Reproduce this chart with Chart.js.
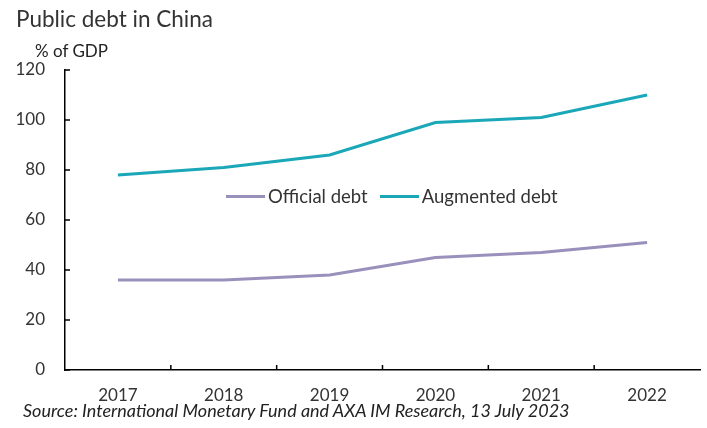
<!DOCTYPE html>
<html>
<head>
<meta charset="utf-8">
<script src="https://cdn.jsdelivr.net/npm/chart.js@4.4.0/dist/chart.umd.min.js"></script>
<style>
  body { margin: 0; background: #fff; font-family: Lato, "Open Sans", sans-serif; color: #222; }
  .wrap { position: relative; width: 707px; height: 428px; }
  #c { position: absolute; left: 0; top: 0; }
  .title { position: absolute; left: 16px; top: 5px; font-size: 22.5px; color: #333; line-height: 1.2; }
  .unit { position: absolute; left: 35px; top: 41px; font-size: 17px; color: #222; line-height: 1.2; }
  .source { position: absolute; left: 23px; top: 400px; font-size: 18px; font-style: italic; color: #222; line-height: 1.2; white-space: nowrap; }
  .legend { position: absolute; left: 226px; top: 185px; font-size: 18.5px; color: #333; display: flex; align-items: center; line-height: 1.2; }
  .legend span.sw { display: inline-block; width: 39px; height: 3px; margin-right: 3px; }
  .legend span.item { display: flex; align-items: center; margin-right: 12px; }
</style>
</head>
<body>
<div class="wrap">
  <canvas id="c" width="707" height="428"></canvas>
  <div class="title">Public debt in China</div>
  <div class="unit">% of GDP</div>
  <div class="legend">
    <span class="item"><span class="sw" style="background:#9a90bc"></span>Official debt</span>
    <span class="item"><span class="sw" style="background:#1aa7b8"></span>Augmented debt</span>
  </div>
  <div class="source">Source: International Monetary Fund and AXA IM Research, 13 July 2023</div>
</div>
<script>
const years = ['2017', '2018', '2019', '2020', '2021', '2022'];
const officialDebt = [36, 36, 38, 45, 47, 51];
const augmentedDebt = [78, 81, 86, 99, 101, 110];

// small tick marks drawn on the inner side of both axes
const innerTicks = {
  id: 'innerTicks',
  afterDraw(chart) {
    const ctx = chart.ctx;
    const x = chart.scales.x, y = chart.scales.y;
    ctx.save();
    ctx.strokeStyle = '#000';
    ctx.lineWidth = 1.5;
    ctx.beginPath();
    y.ticks.forEach((t, i) => {
      const py = y.getPixelForTick(i);
      ctx.moveTo(x.left, py);
      ctx.lineTo(x.left + 5, py);
    });
    for (let i = 1; i < years.length; i++) {
      const px = (x.getPixelForValue(i - 1) + x.getPixelForValue(i)) / 2;
      ctx.moveTo(px, y.bottom);
      ctx.lineTo(px, y.bottom - 5);
    }
    ctx.stroke();
    ctx.restore();
  }
};

new Chart(document.getElementById('c'), {
  type: 'line',
  data: {
    labels: years,
    datasets: [
      { label: 'Official debt', data: officialDebt, borderColor: '#9a90bc', borderWidth: 3, pointRadius: 0, tension: 0 },
      { label: 'Augmented debt', data: augmentedDebt, borderColor: '#1aa7b8', borderWidth: 3, pointRadius: 0, tension: 0 }
    ]
  },
  options: {
    responsive: false,
    animation: false,
    layout: { padding: { left: 0, top: 70, right: 7, bottom: 18 } },
    plugins: { legend: { display: false }, tooltip: { enabled: false } },
    scales: {
      x: {
        offset: true,
        grid: { display: false, drawTicks: false },
        border: { color: '#000', width: 1.5 },
        ticks: { color: '#333', font: { family: 'Lato', size: 17 }, padding: 15, maxRotation: 0 },
        afterFit(s) { s.height = 40; }
      },
      y: {
        min: 0, max: 120,
        grid: { display: false, drawTicks: false },
        border: { color: '#000', width: 1.5 },
        ticks: { stepSize: 20, color: '#333', font: { family: 'Lato', size: 17 }, padding: 20 },
        afterFit(s) { s.width = 65; }
      }
    }
  },
  plugins: [innerTicks]
});
</script>
</body>
</html>
